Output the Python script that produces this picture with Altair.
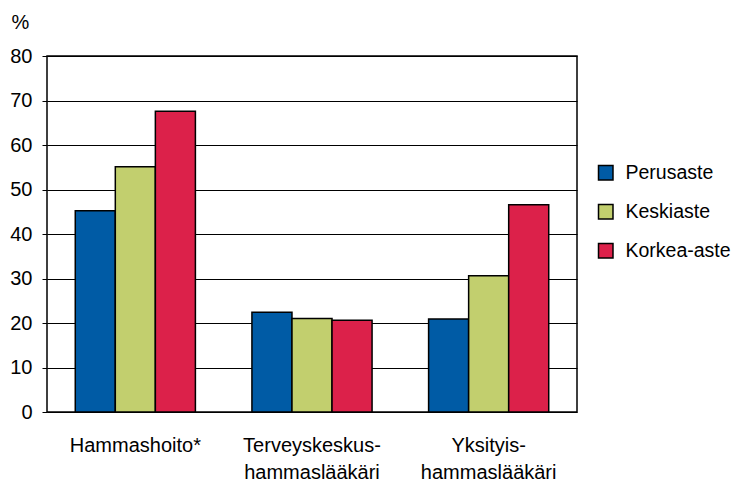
import altair as alt
import pandas as pd

categories = ["Hammashoito*", "Terveyskeskus-\nhammaslääkäri", "Yksityis-\nhammaslääkäri"]
levels = ["Perusaste", "Keskiaste", "Korkea-aste"]
perusaste = [45.2, 22.4, 20.9]
keskiaste = [55.1, 21.0, 30.6]
korkea = [67.6, 20.6, 46.6]
colors = ["#005BA5", "#C2CF6E", "#DC214A"]

rows = []
for i, c in enumerate(categories):
    for lev, vals in zip(levels, [perusaste, keskiaste, korkea]):
        rows.append({"cat": c, "level": lev, "value": vals[i]})
df = pd.DataFrame(rows)

font = "Liberation Sans"
fs = 20

chart = alt.Chart(df).mark_bar(stroke="black", strokeWidth=1.5).encode(
    x=alt.X("cat:N", sort=categories, title=None,
            scale=alt.Scale(paddingInner=0.32, paddingOuter=0.16),
            axis=alt.Axis(labelAngle=0, labelFontSize=fs, labelFont=font, labelColor="black",
                          labelExpr="split(datum.label, '\\n')", labelLineHeight=27,
                          labelPadding=23, ticks=False, domain=False, grid=False)),
    xOffset=alt.XOffset("level:N", sort=levels),
    y=alt.Y("value:Q", title="%",
            scale=alt.Scale(domain=[0, 80]),
            axis=alt.Axis(values=list(range(0, 81, 10)), labelFontSize=fs, labelFont=font,
                          labelColor="black", titleFontSize=fs, titleFont=font,
                          titleFontWeight="normal", titleColor="black", titleAngle=0,
                          titleX=-36, titleY=-28, titleAlign="left", titleBaseline="alphabetic",
                          gridColor="black", gridWidth=1, gridOpacity=1,
                          tickColor="black", tickSize=5, tickWidth=1,
                          domain=False, labelPadding=10)),
    color=alt.Color("level:N", sort=levels,
                    scale=alt.Scale(domain=levels, range=colors),
                    legend=alt.Legend(title=None, orient="none", legendX=549, legendY=107,
                                      symbolType="square", symbolSize=210,
                                      symbolStrokeColor="black", symbolStrokeWidth=1.5,
                                      labelFontSize=19.5, labelFont=font, labelColor="black",
                                      labelOffset=10, rowPadding=18, labelLimit=200)),
).properties(
    width=530, height=356,
    autosize=alt.AutoSizeParams(type="none"),
    padding={"left": 39, "top": 48, "right": 160, "bottom": 72},
).configure_view(
    stroke="black", strokeWidth=1.5
)

chart.save("out.html", embed_options={"renderer": "svg", "actions": False})
